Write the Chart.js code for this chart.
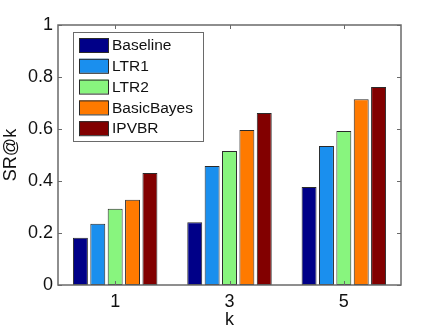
<!DOCTYPE html>
<html>
<head>
<meta charset="utf-8">
<script src="https://cdn.jsdelivr.net/npm/chart.js@4.4.1/dist/chart.umd.min.js"></script>
<style>
  html, body { margin: 0; padding: 0; background: #fff; }
  #wrap { width: 438px; height: 333px; }
</style>
</head>
<body>
<div id="wrap"><canvas id="chart" width="438" height="333"></canvas></div>
<script>
// k values on the x axis
const kLabels = ['1', '3', '5'];

// SR@k per method
const baseline   = [0.182, 0.241, 0.377];
const ltr1       = [0.236, 0.458, 0.535];
const ltr2       = [0.293, 0.515, 0.592];
const basicBayes = [0.328, 0.596, 0.714];
const ipvbr      = [0.431, 0.662, 0.762];

const seriesNames  = ['Baseline', 'LTR1', 'LTR2', 'BasicBayes', 'IPVBR'];
const seriesColors = ['#000088', '#1a8fee', '#88f57e', '#ff7a00', '#820000'];

const FONT = "'Liberation Sans', Arial, Helvetica, sans-serif";
const AXIS_GRAY = '#6a6a6a';

const datasets = [baseline, ltr1, ltr2, basicBayes, ipvbr].map((vals, i) => ({
    label: seriesNames[i],
    data: vals,
    backgroundColor: seriesColors[i],
    borderColor: '#2a2a2a',
    borderWidth: 1,
    borderSkipped: false,
    categoryPercentage: 0.76,
    barPercentage: 0.86
}));

// box around the plot with short inward ticks on all four sides
const axesBox = {
    id: 'axesBox',
    afterDatasetsDraw(chart) {
        const { ctx, chartArea: a, scales } = chart;
        ctx.save();
        ctx.strokeStyle = AXIS_GRAY;
        ctx.lineWidth = 1.5;
        ctx.strokeRect(a.left, a.top, a.right - a.left, a.bottom - a.top);
        ctx.lineWidth = 1;
        ctx.beginPath();
        scales.y.ticks.forEach(t => {
            const y = Math.round(scales.y.getPixelForValue(t.value)) + 0.5;
            ctx.moveTo(a.left, y); ctx.lineTo(a.left + 4, y);
            ctx.moveTo(a.right, y); ctx.lineTo(a.right - 4, y);
        });
        kLabels.forEach((_, i) => {
            const x = Math.round(scales.x.getPixelForValue(i)) + 0.5;
            ctx.moveTo(x, a.bottom); ctx.lineTo(x, a.bottom - 4);
            ctx.moveTo(x, a.top); ctx.lineTo(x, a.top + 4);
        });
        ctx.stroke();
        ctx.restore();
    }
};

// boxed legend in the upper left of the plot
const boxLegend = {
    id: 'boxLegend',
    afterDraw(chart) {
        const { ctx, chartArea: a } = chart;
        const x0 = a.left + 15, y0 = a.top + 7;
        const w = 130, h = 109;
        ctx.save();
        ctx.fillStyle = '#fff';
        ctx.fillRect(x0, y0, w, h);
        ctx.strokeStyle = AXIS_GRAY;
        ctx.lineWidth = 1;
        ctx.strokeRect(x0 + 0.5, y0 + 0.5, w, h);
        ctx.font = '15.5px ' + FONT;
        ctx.textBaseline = 'middle';
        chart.data.datasets.forEach((ds, i) => {
            const cy = y0 + 13 + i * 20.8;
            ctx.fillStyle = ds.backgroundColor;
            ctx.fillRect(x0 + 6, cy - 7, 29, 14);
            ctx.strokeStyle = '#2a2a2a';
            ctx.strokeRect(x0 + 6.5, cy - 6.5, 29, 14);
            ctx.fillStyle = '#111';
            ctx.fillText(ds.label, x0 + 39, cy + 1);
        });
        ctx.restore();
    }
};

new Chart(document.getElementById('chart'), {
    type: 'bar',
    data: { labels: kLabels, datasets: datasets },
    options: {
        responsive: false,
        animation: false,
        layout: { padding: { top: 25, right: 37, left: 0, bottom: 0 } },
        plugins: { legend: { display: false }, tooltip: { enabled: false } },
        scales: {
            x: {
                grid: { display: false, drawTicks: false },
                border: { display: false },
                ticks: { color: '#111', font: { family: FONT, size: 18 }, padding: 6 },
                title: { display: true, text: 'k', color: '#111', font: { family: FONT, size: 18 }, padding: { top: 0, bottom: 2 } },
                afterFit(scale) { scale.height = 48; }
            },
            y: {
                min: 0, max: 1,
                grid: { display: false, drawTicks: false },
                border: { display: false },
                ticks: {
                    stepSize: 0.2, color: '#111', font: { family: FONT, size: 18 }, padding: 5,
                    callback: v => String(Number(v.toFixed(1)))
                },
                title: { display: true, text: 'SR@k', color: '#111', font: { family: FONT, size: 18 }, padding: { top: 0, bottom: 0 } },
                afterFit(scale) { scale.width = 58; }
            }
        }
    },
    plugins: [axesBox, boxLegend]
});
</script>
</body>
</html>
